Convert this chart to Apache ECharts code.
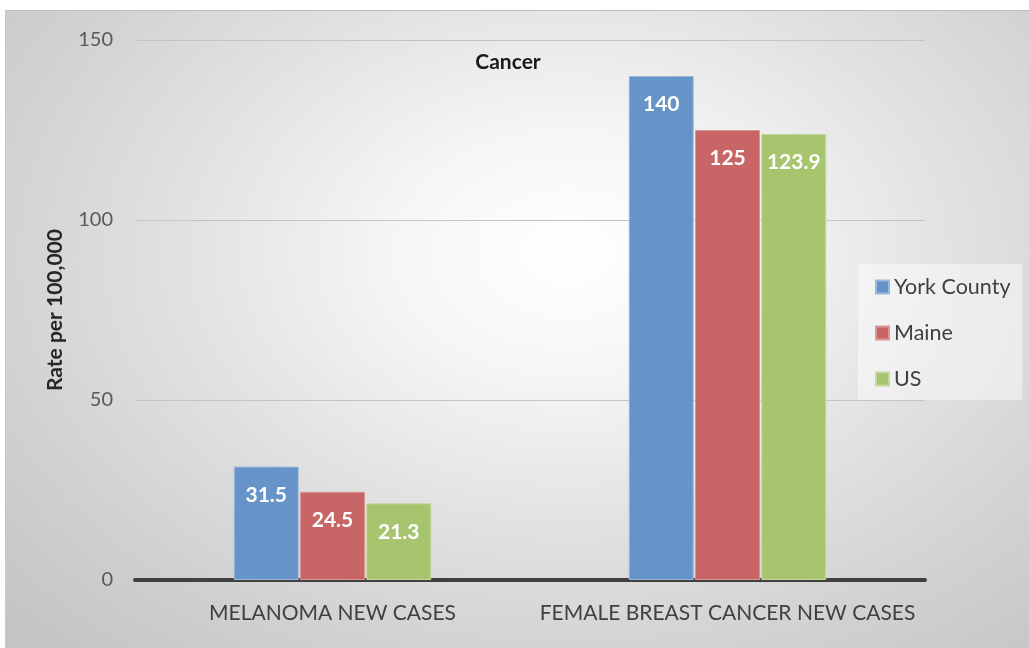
<!DOCTYPE html>
<html>
<head>
<meta charset="utf-8">
<script src="https://cdn.jsdelivr.net/npm/echarts@6/dist/echarts.min.js"></script>
<style>
  html, body { margin: 0; padding: 0; background: #fff; }
  #wrap { position: relative; width: 1029px; height: 648px; }
  #bg {
    position: absolute; left: 5px; top: 10px; width: 1024px; height: 638px;
    border-top: 1px solid #bdbdbd; border-left: 1px solid #c8c8c8; box-sizing: border-box;
    background: radial-gradient(ellipse 75% 85% at 55% 38%, #ffffff 0%, #f6f6f6 22%, #e2e2e2 50%, #d2d2d2 75%, #c4c4c4 100%);
  }
  #chart { position: absolute; left: 0; top: 0; width: 1029px; height: 648px; }
</style>
</head>
<body>
<div id="wrap">
  <div id="bg"></div>
  <div id="chart"></div>
</div>
<script>
const categories = ['MELANOMA NEW CASES', 'FEMALE BREAST CANCER NEW CASES'];
const yorkCounty = [31.5, 140];
const maine = [24.5, 125];
const us = [21.3, 123.9];
const yTicks = [0, 50, 100, 150];

const font = 'Lato, "Open Sans", sans-serif';

const chart = echarts.init(document.getElementById('chart'), null, { renderer: 'canvas' });

function bar(name, data, color, border) {
  return {
    name: name,
    type: 'bar',
    data: data,
    barGap: '2%',
    barCategoryGap: '50%',
    itemStyle: { color: color, borderColor: border, borderWidth: 1 },
    label: {
      show: true,
      position: 'insideTop',
      distance: 18,
      color: '#fff',
      fontFamily: font,
      fontWeight: 'bold',
      fontSize: 21
    }
  };
}

const option = {
  backgroundColor: 'transparent',
  animation: false,
  title: {
    text: 'Cancer',
    left: 503,
    top: 47,
    textAlign: 'center',
    textStyle: { fontFamily: font, fontWeight: 'bold', fontSize: 21, color: '#1a1a1a' }
  },
  legend: {
    orient: 'vertical',
    left: 858,
    top: 264,
    padding: [12, 12, 10, 17],
    itemGap: 24,
    itemWidth: 13,
    itemHeight: 13,
    icon: 'rect',
    backgroundColor: 'rgba(255,255,255,0.45)',
    textStyle: { fontFamily: font, fontSize: 21.5, color: '#404040' },
    data: ['York County', 'Maine', 'US']
  },
  grid: { left: 135, right: 104, top: 40, bottom: 68 },
  xAxis: {
    type: 'category',
    data: categories,
    axisLine: { lineStyle: { color: '#404040', width: 4 } },
    axisTick: { show: false },
    axisLabel: { fontFamily: font, fontSize: 21, color: '#404040', margin: 23, interval: 0 }
  },
  yAxis: {
    type: 'value',
    min: yTicks[0],
    max: yTicks[yTicks.length - 1],
    interval: 50,
    name: 'Rate per 100,000',
    nameLocation: 'middle',
    nameGap: 69,
    nameTextStyle: { fontFamily: font, fontWeight: 'bold', fontSize: 21, color: '#262626' },
    axisLine: { show: false },
    axisTick: { show: false },
    axisLabel: { fontFamily: font, fontSize: 20, color: '#595959', margin: 22 },
    splitLine: { lineStyle: { color: '#c4c4c4', width: 1 } }
  },
  series: [
    bar('York County', yorkCounty, '#6794c8', '#9db8dc'),
    bar('Maine', maine, '#c86566', '#dc9696'),
    bar('US', us, '#a7c46e', '#c4d89c')
  ]
};

chart.setOption(option);
window.addEventListener('resize', () => chart.resize());
</script>
</body>
</html>
